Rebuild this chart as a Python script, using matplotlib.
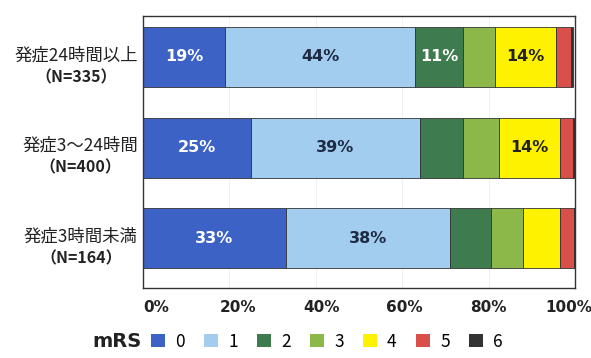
import matplotlib
matplotlib.use("Agg")
import matplotlib.pyplot as plt
from matplotlib.patches import Patch
import matplotlib.transforms as mtransforms
import numpy as np

plt.rcParams['font.family'] = ['Noto Sans CJK JP', 'DejaVu Sans']

cat_names = ['発症3時間未満', '発症3～24時間', '発症24時間以上']
cat_n = ['（N=164）', '（N=400）', '（N=335）']
mrs_labels = ['0', '1', '2', '3', '4', '5', '6']
# rows follow categories (bottom to top); columns are mRS 0..6 (%)
mrs0 = [33, 25, 19]
mrs1 = [38, 39, 44]
mrs2 = [9.5, 10, 11]
mrs3 = [7.5, 8.5, 7.5]
mrs4 = [8.5, 14, 14]
mrs5 = [3.3, 3, 3.5]
mrs6 = [0.2, 0.5, 0.5]
shown = {  # segment labels shown in the chart: (row, mrs) -> text
    (0, 0): '33%', (0, 1): '38%',
    (1, 0): '25%', (1, 1): '39%', (1, 4): '14%',
    (2, 0): '19%', (2, 1): '44%', (2, 2): '11%', (2, 4): '14%',
}
ticks = [0, 20, 40, 60, 80, 100]
tick_labels = ['0%', '20%', '40%', '60%', '80%', '100%']

colors = ['#3d62c6', '#a2cdef', '#3e7b4e', '#8cb84a', '#fff200', '#d9504a', '#333333']
text_colors = ['white', '#1f2a44', 'white', '#222222', '#222222', 'white', 'white']

series = [mrs0, mrs1, mrs2, mrs3, mrs4, mrs5, mrs6]

fig = plt.figure(figsize=(5.91, 3.58), dpi=100)
ax = fig.add_axes([0.242, 0.195, 0.731, 0.76])

y = np.arange(len(cat_names))
left = np.zeros(len(cat_names))
for k, vals in enumerate(series):
    bars = ax.barh(y, vals, left=left, height=0.66, color=colors[k],
                   edgecolor='#333333', linewidth=0.6)
    for i, b in enumerate(bars):
        if (i, k) in shown:
            ax.text(b.get_x() + b.get_width() / 2, b.get_y() + b.get_height() / 2,
                    shown[(i, k)], ha='center', va='center', fontsize=11.5,
                    fontweight='bold', color=text_colors[k], family='DejaVu Sans')
    left += np.array(vals)

ax.set_xlim(0, 100)
ax.set_ylim(-0.55, 2.45)
ax.set_xticks(ticks)
ax.set_xticklabels([])
# the scanned original shows the tick labels slightly shifted horizontally
label_shift_px = [13, 9, 6, 2, 0, -6]
for t, lab, dx in zip(ticks, tick_labels, label_shift_px):
    ax.annotate(lab, xy=(t, 0), xycoords=('data', 'axes fraction'),
                xytext=(dx, -19), textcoords='offset pixels', ha='center',
                va='center', fontsize=11, fontweight='bold', family='DejaVu Sans',
                color='#222222', annotation_clip=False)
ax.set_yticks(y)
ax.set_yticklabels([])
ax.tick_params(length=0)
for s in ax.spines.values():
    s.set_color('#333333')
    s.set_linewidth(1.0)
ax.grid(axis='x', color='#eeeeee', linewidth=0.6)
ax.set_axisbelow(True)

# category labels: name line right-aligned near the axis, N line centred beneath it
trans = mtransforms.blended_transform_factory(ax.transAxes, ax.transData)
for i in range(len(cat_names)):
    t1 = ax.text(-0.012, y[i] + 0.02, cat_names[i], transform=trans, ha='right',
                 va='center', fontsize=12.5, color='#222222')
    ax.annotate(cat_n[i], xy=(0.5, 0), xycoords=t1, xytext=(0, -3.5),
                textcoords='offset points', ha='center', va='top',
                fontsize=11.5, fontweight='bold', color='#222222')

fig.text(0.156, 0.045, 'mRS', fontsize=14, fontweight='bold', ha='left', va='center',
         color='#222222', family='DejaVu Sans')
handles = [Patch(facecolor=c, edgecolor='none') for c in colors]
fig.legend(handles, mrs_labels, loc='center left', bbox_to_anchor=(0.255, 0.045),
           ncol=7, frameon=False, fontsize=12.5, handlelength=0.8, handleheight=0.8,
           handletextpad=0.6, columnspacing=1.1, borderpad=0, borderaxespad=0)

fig.savefig('out.png', dpi=100)
